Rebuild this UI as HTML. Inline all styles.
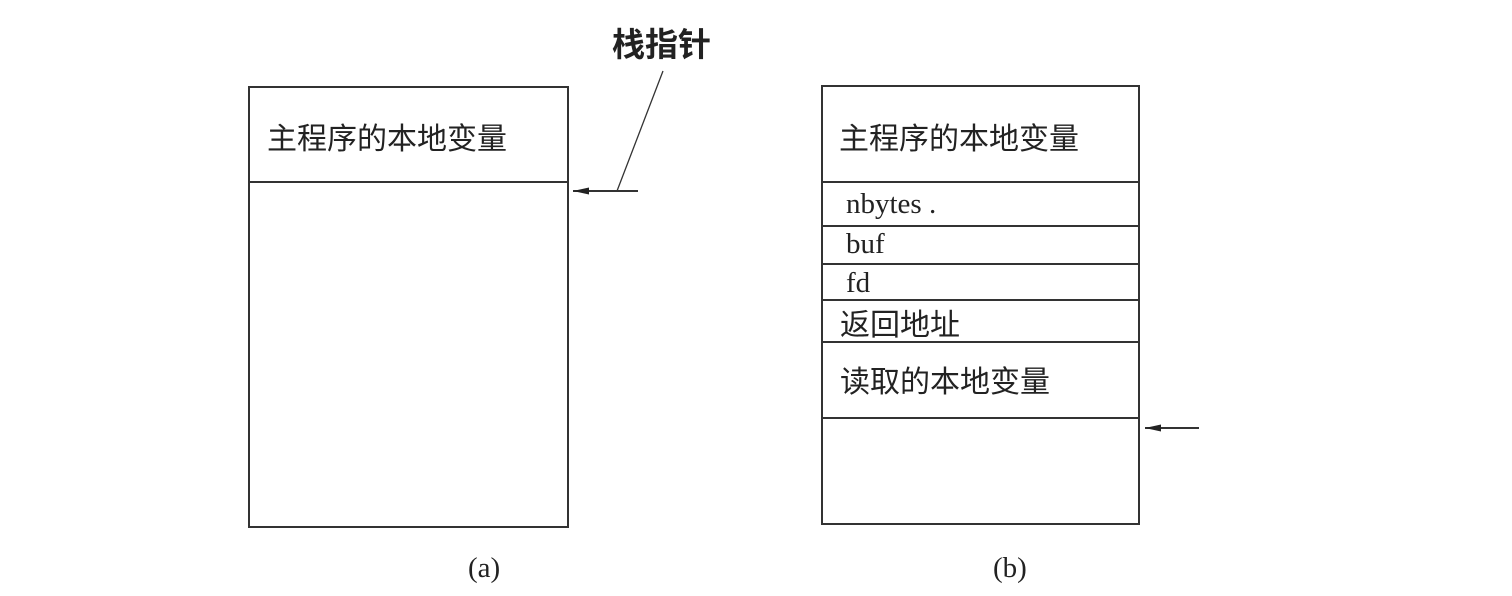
<!DOCTYPE html>
<html><head><meta charset="utf-8"><style>body{margin:0;background:#fff}svg{display:block}</style></head>
<body>
<svg width="1512" height="596" xmlns="http://www.w3.org/2000/svg">
<defs><marker id="ah" markerUnits="userSpaceOnUse" markerWidth="16" markerHeight="10" refX="16" refY="5" orient="auto"><path d="M0,1.5 L16,5 L0,8.5 Z" fill="#222"/></marker></defs>
<g stroke="#333" stroke-width="2" fill="none">
<rect x="249" y="87" width="319" height="440"/>
<line x1="249" y1="182" x2="568" y2="182"/>
<rect x="822" y="86" width="317" height="438"/>
<line x1="822" y1="182" x2="1139" y2="182"/>
<line x1="822" y1="226" x2="1139" y2="226"/>
<line x1="822" y1="264" x2="1139" y2="264"/>
<line x1="822" y1="300" x2="1139" y2="300"/>
<line x1="822" y1="342" x2="1139" y2="342"/>
<line x1="822" y1="418" x2="1139" y2="418"/>
<line x1="638" y1="191" x2="573" y2="191" marker-end="url(#ah)"/>
<line x1="617" y1="191" x2="663" y2="71" stroke-width="1.3"/>
<line x1="1199" y1="428" x2="1145" y2="428" marker-end="url(#ah)"/>
</g>
<g font-family="'Liberation Sans','Noto Sans CJK SC',sans-serif" fill="#222" font-size="30">
<text x="267" y="149">主程序的本地变量</text>
<text x="839" y="149">主程序的本地变量</text>
<text x="840" y="335">返回地址</text>
<text x="840" y="392">读取的本地变量</text>
<text x="612" y="56" font-size="33" font-weight="bold">栈指针</text>
</g>
<g font-family="'Liberation Serif',serif" fill="#222" font-size="29">
<text x="846" y="213">nbytes  .</text>
<text x="846" y="253">buf</text>
<text x="846" y="292">fd</text>
<text x="468" y="577">(a)</text>
<text x="993" y="577">(b)</text>
</g>
</svg>
</body></html>
